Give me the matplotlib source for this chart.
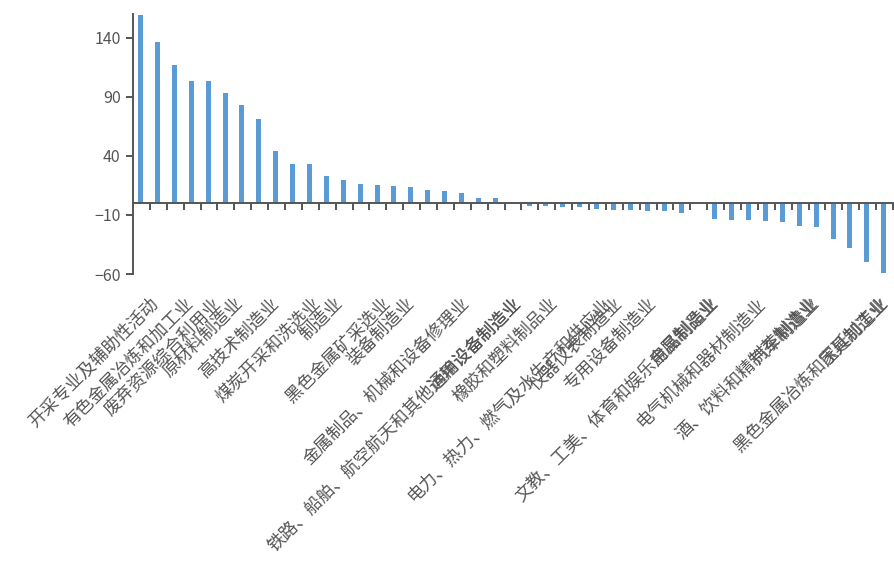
import matplotlib
matplotlib.use("Agg")
import matplotlib.pyplot as plt

plt.rcParams['font.family'] = ['Noto Sans CJK SC', 'DejaVu Sans']

# bar values (45 industries, sorted descending)
values = [159.5, 136.7, 117.0, 103.5, 103.5, 93.4, 83.3, 71.4, 44.3, 33.3,
          33.3, 23.1, 19.7, 16.4, 15.5, 14.7, 13.8, 11.3, 10.4, 8.7,
          4.5, 4.5, 0.0, -2.1, -2.1, -2.9, -2.9, -4.9, -5.7, -5.7,
          -6.6, -6.6, -8.2, 0.0, -13.4, -14.0, -14.0, -15.0, -15.8, -19.1,
          -20.1, -30.3, -37.7, -49.8, -58.8]

# visible category labels (shown in the reference)
tick_labels = ["开采专业及辅助性活动", "有色金属冶炼和加工业", "废弃资源综合利用业",
               "原材料制造业", "高技术制造业", "煤炭开采和洗选业", "制造业",
               "黑色金属矿采选业", "装备制造业", "金属制品、机械和设备修理业",
               "铁路、船舶、航空航天和其他运输设备制造业", "通用设备制造业",
               "橡胶和塑料制品业", "电力、热力、燃气及水生产和供应业", "仪器仪表制造业",
               "专用设备制造业", "文教、工美、体育和娱乐用品制造业", "金属制品业",
               "电气机械和器材制造业", "酒、饮料和精制茶制造业", "汽车制造业",
               "黑色金属冶炼和压延加工业", "家具制造业"]

y_ticks = [-60, -10, 40, 90, 140]

# layout: label end anchors along the category axis (as rendered in the reference)
label_anchor = [1.31, 3.39, 5.04, 6.35, 8.54, 10.97, 12.27, 15.05, 16.47, 19.79,
                22.81, 22.81, 25.00, 28.14, 28.85, 30.80, 34.47, 34.47, 37.31,
                40.39, 40.51, 44.54, 44.54]

axis_color = '#555555'
text_color = '#555555'
bar_color = '#5b9bd5'

fig = plt.figure(figsize=(8.95, 5.71), dpi=100)
ax = fig.add_axes([133/895, 1 - 274/571, 760/895, 260/571])

n = len(values)
xs = [i + 0.3 for i in range(n)]
ax.bar(xs, values, width=0.3, align='edge', color=bar_color, zorder=2)

ax.set_xlim(0, n)
ax.set_ylim(-60, 160)

for s in ['top', 'right']:
    ax.spines[s].set_visible(False)
ax.spines['bottom'].set_position(('data', 0))
for s in ['bottom', 'left']:
    ax.spines[s].set_color(axis_color)
    ax.spines[s].set_linewidth(1.4)
    ax.spines[s].set_zorder(3)

ax.set_yticks(y_ticks)
ax.set_yticklabels([f"{v}".replace('-', '\u2212') for v in y_ticks])
ax.set_xticks([i + 1 for i in range(n)])
ax.set_xticklabels([])
ax.tick_params(axis='both', direction='out', length=5, width=1.4, color=axis_color,
               labelsize=11.5, labelcolor=text_color)
ax.tick_params(axis='y', pad=4)

for pos, lab in zip(label_anchor, tick_labels):
    ax.text(pos, -82.5, lab, rotation=45, rotation_mode='anchor', ha='right', va='center',
            fontsize=12.6, color=text_color, clip_on=False)

fig.savefig('out.png', dpi=100)
